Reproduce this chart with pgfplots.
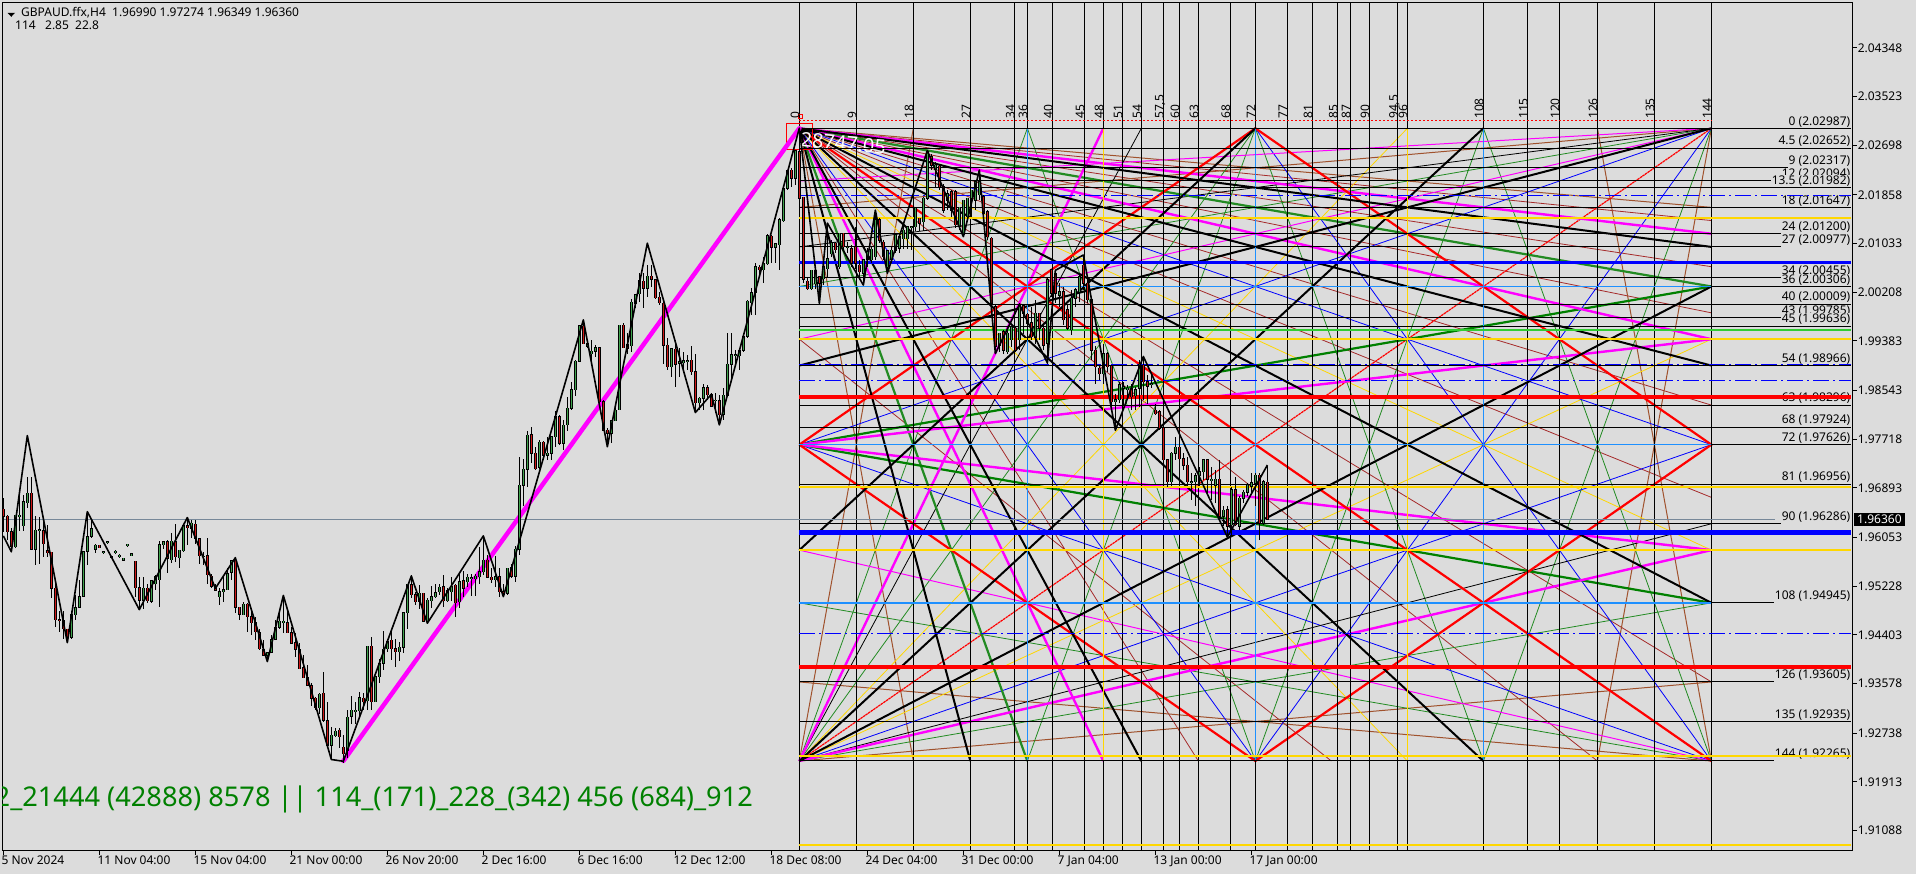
\documentclass[border=0pt]{standalone}
\usepackage{pgfplots}
\usepackage{pgfplotstable}
\usepackage{fontspec}
\setmainfont{Noto Sans}
\pgfplotsset{compat=1.18}
\definecolor{bg}{HTML}{DCDCDC}
\definecolor{ggold}{HTML}{FFD700}
\definecolor{gblue}{HTML}{1E90FF}
\definecolor{glime}{HTML}{32CD32}
\definecolor{ggreen}{HTML}{008000}
\definecolor{fgreen}{HTML}{228B22}
\definecolor{gbrown}{HTML}{A0522D}
\definecolor{dred}{HTML}{A52A2A}
\definecolor{bull}{HTML}{3FA34D}
\definecolor{bear}{HTML}{D01818}
\definecolor{pline}{HTML}{778899}
\definecolor{mag}{HTML}{FF00FF}
\definecolor{pure}{HTML}{0000FF}
\definecolor{rd}{HTML}{FF0000}
\newcommand\chartfont{\fontsize{12}{13}\selectfont}

% bars: index, high, body top, body bottom, low
\pgfplotstableread{
i h t b l
3 1.9643 1.9643 1.9590 1.9587
4 1.9677 1.9643 1.9642 1.9617
5 1.9677 1.9666 1.9625 1.9617
6 1.9708 1.9680 1.9664 1.9656
8 1.9641 1.9618 1.9585 1.9559
9 1.9640 1.9618 1.9617 1.9561
17 1.9480 1.9474 1.9436 1.9434
18 1.9508 1.9486 1.9474 1.9465
19 1.9533 1.9505 1.9487 1.9485
20 1.9581 1.9581 1.9506 1.9505
21 1.9649 1.9607 1.9582 1.9559
22 1.9635 1.9620 1.9607 1.9604
23 1.9594 1.9592 1.9585 1.9579
25 1.9582 1.9581 1.9580 1.9577
26 1.9598 1.9598 1.9596 1.9594
27 1.9574 1.9574 1.9572 1.9570
28 1.9584 1.9582 1.9581 1.9578
29 1.9577 1.9575 1.9574 1.9571
30 1.9571 1.9570 1.9567 1.9565
31 1.9595 1.9594 1.9591 1.9590
32 1.9579 1.9578 1.9575 1.9574
35 1.9539 1.9519 1.9499 1.9485
37 1.9533 1.9532 1.9497 1.9494
38 1.9541 1.9539 1.9527 1.9516
39 1.9600 1.9593 1.9534 1.9488
40 1.9600 1.9598 1.9593 1.9585
42 1.9613 1.9599 1.9568 1.9562
44 1.9584 1.9584 1.9571 1.9553
45 1.9626 1.9625 1.9583 1.9581
47 1.9635 1.9629 1.9621 1.9604
50 1.9581 1.9574 1.9573 1.9559
54 1.9519 1.9513 1.9505 1.9491
55 1.9541 1.9517 1.9514 1.9496
56 1.9553 1.9544 1.9517 1.9516
57 1.9567 1.9566 1.9546 1.9533
60 1.9496 1.9492 1.9474 1.9474
66 1.9412 1.9410 1.9406 1.9395
67 1.9440 1.9432 1.9411 1.9409
68 1.9465 1.9453 1.9433 1.9431
69 1.9480 1.9463 1.9453 1.9451
70 1.9505 1.9463 1.9461 1.9444
79 1.9341 1.9340 1.9317 1.9307
82 1.9285 1.9270 1.9253 1.9228
83 1.9282 1.9277 1.9269 1.9268
86 1.9313 1.9301 1.9245 1.9231
87 1.9337 1.9313 1.9302 1.9290
88 1.9327 1.9313 1.9310 1.9290
89 1.9344 1.9334 1.9312 1.9302
91 1.9421 1.9421 1.9329 1.9313
93 1.9369 1.9369 1.9327 1.9327
94 1.9400 1.9392 1.9369 1.9358
95 1.9447 1.9416 1.9392 1.9381
96 1.9433 1.9429 1.9417 1.9412
99 1.9428 1.9419 1.9412 1.9396
100 1.9479 1.9478 1.9419 1.9409
101 1.9527 1.9526 1.9478 1.9451
104 1.9525 1.9511 1.9496 1.9485
106 1.9502 1.9499 1.9463 1.9460
107 1.9523 1.9505 1.9498 1.9485
108 1.9527 1.9512 1.9505 1.9502
109 1.9526 1.9521 1.9513 1.9508
111 1.9519 1.9515 1.9498 1.9496
112 1.9539 1.9523 1.9513 1.9498
114 1.9547 1.9530 1.9496 1.9485
116 1.9543 1.9538 1.9530 1.9522
117 1.9543 1.9537 1.9535 1.9506
118 1.9544 1.9540 1.9535 1.9506
119 1.9590 1.9547 1.9539 1.9527
120 1.9607 1.9567 1.9547 1.9542
123 1.9574 1.9539 1.9534 1.9522
126 1.9553 1.9553 1.9511 1.9508
128 1.9590 1.9585 1.9540 1.9529
129 1.9742 1.9694 1.9585 1.9576
130 1.9739 1.9721 1.9694 1.9658
131 1.9785 1.9779 1.9721 1.9691
134 1.9771 1.9767 1.9724 1.9722
136 1.9776 1.9748 1.9745 1.9736
137 1.9777 1.9776 1.9748 1.9736
138 1.9819 1.9810 1.9776 1.9759
140 1.9804 1.9796 1.9765 1.9754
141 1.9844 1.9824 1.9796 1.9785
142 1.9869 1.9856 1.9824 1.9821
143 1.9906 1.9904 1.9856 1.9845
144 1.9965 1.9964 1.9904 1.9903
146 1.9940 1.9934 1.9929 1.9926
147 1.9940 1.9921 1.9917 1.9906
148 1.9931 1.9927 1.9921 1.9912
152 1.9804 1.9803 1.9782 1.9765
153 1.9824 1.9821 1.9803 1.9802
154 1.9965 1.9965 1.9822 1.9821
157 2.0009 2.0004 1.9930 1.9920
158 2.0018 2.0017 2.0002 1.9994
159 2.0053 2.0040 2.0018 2.0005
161 2.0067 2.0048 2.0028 2.0013
167 1.9926 1.9925 1.9895 1.9878
169 1.9926 1.9903 1.9901 1.9877
170 1.9920 1.9905 1.9901 1.9889
171 1.9914 1.9905 1.9904 1.9889
174 1.9844 1.9841 1.9834 1.9821
175 1.9866 1.9859 1.9841 1.9821
178 1.9850 1.9838 1.9837 1.9816
180 1.9858 1.9846 1.9814 1.9804
181 1.9952 1.9899 1.9846 1.9844
182 1.9952 1.9915 1.9899 1.9872
183 1.9923 1.9915 1.9913 1.9895
184 1.9926 1.9922 1.9913 1.9889
185 1.9946 1.9946 1.9923 1.9920
186 2.0008 2.0006 1.9946 1.9944
187 2.0028 2.0020 2.0003 1.9982
188 2.0070 2.0064 2.0020 1.9982
190 2.0081 2.0070 2.0059 2.0036
191 2.0120 2.0117 2.0069 2.0067
193 2.0103 2.0103 2.0097 2.0070
194 2.0146 2.0144 2.0101 2.0059
195 2.0200 2.0197 2.0142 2.0140
196 2.0228 2.0227 2.0197 2.0194
198 2.0262 2.0261 2.0214 2.0203
202 2.0058 2.0058 2.0027 2.0025
203 2.0064 2.0058 2.0035 2.0027
205 2.0076 2.0064 2.0044 2.0033
206 2.0138 2.0078 2.0061 2.0047
207 2.0109 2.0104 2.0086 2.0081
209 2.0121 2.0121 2.0064 2.0061
211 2.0106 2.0098 2.0096 2.0087
215 2.0076 2.0076 2.0053 2.0036
216 2.0095 2.0090 2.0076 2.0064
217 2.0098 2.0094 2.0076 2.0070
218 2.0160 2.0144 2.0081 2.0076
221 2.0092 2.0091 2.0064 2.0053
222 2.0098 2.0092 2.0076 2.0070
223 2.0118 2.0118 2.0092 2.0087
224 2.0118 2.0115 2.0095 2.0087
225 2.0138 2.0126 2.0112 2.0095
226 2.0132 2.0132 2.0112 2.0095
227 2.0132 2.0132 2.0130 2.0092
228 2.0163 2.0163 2.0132 2.0124
230 2.0183 2.0180 2.0140 2.0124
231 2.0261 2.0259 2.0180 2.0177
233 2.0242 2.0236 2.0228 2.0200
236 2.0194 2.0188 2.0177 2.0160
239 2.0166 2.0165 2.0132 2.0126
240 2.0177 2.0177 2.0118 2.0115
241 2.0180 2.0180 2.0149 2.0143
242 2.0194 2.0194 2.0180 2.0149
243 2.0211 2.0208 2.0177 2.0160
244 2.0228 2.0208 2.0186 2.0177
249 1.9951 1.9951 1.9931 1.9920
251 1.9957 1.9951 1.9920 1.9917
252 1.9962 1.9962 1.9940 1.9929
254 2.0002 2.0000 1.9940 1.9923
258 2.0008 1.9985 1.9945 1.9934
261 2.0045 2.0042 1.9934 1.9900
264 2.0036 2.0022 2.0016 1.9996
267 2.0025 2.0011 1.9957 1.9948
268 2.0028 2.0025 2.0011 1.9996
269 2.0050 2.0047 2.0022 2.0005
275 1.9934 1.9917 1.9883 1.9866
278 1.9849 1.9839 1.9835 1.9787
279 1.9869 1.9864 1.9839 1.9833
280 1.9869 1.9861 1.9858 1.9830
281 1.9864 1.9858 1.9856 1.9838
283 1.9861 1.9856 1.9845 1.9821
284 1.9906 1.9899 1.9858 1.9827
287 1.9881 1.9866 1.9865 1.9858
292 1.9751 1.9748 1.9700 1.9692
293 1.9776 1.9758 1.9748 1.9737
297 1.9714 1.9700 1.9698 1.9669
298 1.9714 1.9710 1.9700 1.9658
299 1.9725 1.9717 1.9710 1.9692
300 1.9739 1.9737 1.9717 1.9703
302 1.9725 1.9704 1.9703 1.9669
303 1.9720 1.9704 1.9694 1.9663
305 1.9658 1.9651 1.9641 1.9624
307 1.9691 1.9686 1.9627 1.9607
309 1.9675 1.9672 1.9624 1.9618
310 1.9686 1.9682 1.9672 1.9663
311 1.9697 1.9694 1.9682 1.9675
312 1.9714 1.9698 1.9692 1.9680
313 1.9714 1.9711 1.9697 1.9658
315 1.9703 1.9700 1.9629 1.9627
}\upbars

\pgfplotstableread{
i h t b l
0 1.9672 1.9653 1.9641 1.9615
1 1.9643 1.9641 1.9615 1.9601
2 1.9621 1.9615 1.9590 1.9581
7 1.9708 1.9680 1.9585 1.9585
10 1.9638 1.9617 1.9595 1.9573
11 1.9626 1.9583 1.9579 1.9573
12 1.9581 1.9580 1.9519 1.9502
13 1.9527 1.9519 1.9466 1.9454
14 1.9480 1.9466 1.9464 1.9446
15 1.9480 1.9465 1.9451 1.9434
16 1.9451 1.9450 1.9437 1.9426
24 1.9593 1.9592 1.9588 1.9587
33 1.9566 1.9565 1.9520 1.9505
34 1.9539 1.9520 1.9499 1.9485
36 1.9527 1.9519 1.9498 1.9494
41 1.9601 1.9598 1.9570 1.9546
43 1.9629 1.9598 1.9573 1.9564
46 1.9638 1.9625 1.9622 1.9592
48 1.9635 1.9628 1.9604 1.9594
49 1.9604 1.9603 1.9574 1.9561
51 1.9604 1.9574 1.9542 1.9527
52 1.9544 1.9540 1.9523 1.9519
53 1.9527 1.9520 1.9516 1.9515
58 1.9570 1.9567 1.9487 1.9477
59 1.9488 1.9487 1.9475 1.9466
61 1.9495 1.9492 1.9471 1.9446
62 1.9480 1.9471 1.9461 1.9440
63 1.9471 1.9461 1.9446 1.9431
64 1.9451 1.9444 1.9417 1.9415
65 1.9431 1.9416 1.9406 1.9404
71 1.9485 1.9461 1.9444 1.9443
72 1.9454 1.9444 1.9426 1.9425
73 1.9443 1.9427 1.9416 1.9402
74 1.9426 1.9416 1.9383 1.9382
75 1.9406 1.9385 1.9368 1.9367
76 1.9389 1.9368 1.9355 1.9354
77 1.9358 1.9354 1.9333 1.9319
78 1.9335 1.9333 1.9317 1.9313
80 1.9377 1.9341 1.9296 1.9293
81 1.9327 1.9295 1.9253 1.9248
84 1.9282 1.9279 1.9268 1.9248
85 1.9270 1.9250 1.9239 1.9223
90 1.9341 1.9333 1.9327 1.9313
92 1.9436 1.9421 1.9327 1.9313
97 1.9449 1.9431 1.9417 1.9398
98 1.9433 1.9417 1.9412 1.9386
102 1.9542 1.9525 1.9508 1.9502
103 1.9513 1.9508 1.9496 1.9491
105 1.9512 1.9511 1.9463 1.9463
110 1.9542 1.9522 1.9498 1.9488
113 1.9527 1.9524 1.9495 1.9471
115 1.9549 1.9532 1.9519 1.9505
121 1.9576 1.9567 1.9538 1.9536
122 1.9553 1.9538 1.9534 1.9529
124 1.9553 1.9539 1.9513 1.9505
125 1.9527 1.9513 1.9509 1.9504
127 1.9561 1.9555 1.9540 1.9536
132 1.9793 1.9779 1.9748 1.9731
133 1.9759 1.9748 1.9722 1.9720
135 1.9768 1.9767 1.9745 1.9742
139 1.9813 1.9810 1.9765 1.9762
145 1.9974 1.9963 1.9934 1.9933
149 1.9928 1.9927 1.9835 1.9834
150 1.9838 1.9835 1.9787 1.9786
151 1.9790 1.9787 1.9782 1.9759
155 1.9968 1.9965 1.9927 1.9926
156 1.9951 1.9933 1.9926 1.9917
160 2.0053 2.0040 2.0028 1.9995
162 2.0067 2.0048 2.0043 2.0030
163 2.0043 2.0042 2.0012 2.0009
164 2.0022 2.0012 2.0003 1.9999
165 2.0005 2.0002 1.9931 1.9900
166 1.9943 1.9931 1.9895 1.9889
168 1.9940 1.9924 1.9899 1.9861
172 1.9929 1.9906 1.9886 1.9881
173 1.9916 1.9886 1.9834 1.9816
176 1.9864 1.9859 1.9847 1.9838
177 1.9850 1.9848 1.9828 1.9827
179 1.9847 1.9837 1.9813 1.9796
189 2.0067 2.0063 2.0059 2.0047
192 2.0118 2.0116 2.0097 2.0070
197 2.0231 2.0228 2.0214 2.0200
199 2.0299 2.0259 2.0180 2.0177
200 2.0182 2.0182 2.0043 2.0036
201 2.0047 2.0040 2.0027 2.0025
204 2.0047 2.0047 2.0036 2.0002
208 2.0106 2.0104 2.0093 2.0087
210 2.0121 2.0121 2.0098 2.0090
212 2.0101 2.0095 2.0070 2.0064
213 2.0132 2.0098 2.0070 2.0061
214 2.0076 2.0067 2.0056 2.0041
219 2.0146 2.0144 2.0109 2.0104
220 2.0109 2.0106 2.0081 2.0076
229 2.0146 2.0146 2.0138 2.0124
232 2.0256 2.0251 2.0236 2.0228
234 2.0236 2.0234 2.0200 2.0194
235 2.0205 2.0200 2.0160 2.0155
237 2.0194 2.0191 2.0160 2.0149
238 2.0194 2.0191 2.0135 2.0129
245 2.0186 2.0183 2.0155 2.0149
246 2.0160 2.0157 2.0115 2.0109
247 2.0115 2.0112 2.0000 1.9996
248 2.0000 1.9996 1.9929 1.9917
250 1.9957 1.9954 1.9923 1.9917
253 1.9962 1.9960 1.9923 1.9920
255 2.0000 1.9998 1.9985 1.9951
256 1.9985 1.9984 1.9968 1.9940
257 1.9996 1.9969 1.9945 1.9940
259 1.9985 1.9985 1.9960 1.9940
260 1.9968 1.9960 1.9931 1.9923
262 2.0059 2.0059 2.0019 2.0013
263 2.0053 2.0053 2.0019 2.0002
265 2.0030 2.0022 1.9974 1.9965
266 2.0000 1.9991 1.9960 1.9957
270 2.0084 2.0067 2.0036 2.0025
271 2.0047 2.0036 2.0008 2.0002
272 2.0011 2.0008 1.9923 1.9906
273 1.9929 1.9923 1.9895 1.9866
274 1.9898 1.9892 1.9883 1.9872
276 1.9920 1.9917 1.9895 1.9886
277 1.9897 1.9896 1.9835 1.9821
282 1.9866 1.9858 1.9844 1.9821
285 1.9909 1.9897 1.9869 1.9838
286 1.9881 1.9869 1.9862 1.9832
288 1.9832 1.9821 1.9815 1.9813
289 1.9821 1.9818 1.9790 1.9787
290 1.9793 1.9790 1.9737 1.9734
291 1.9739 1.9737 1.9700 1.9691
294 1.9773 1.9758 1.9739 1.9720
295 1.9748 1.9739 1.9728 1.9720
296 1.9742 1.9728 1.9700 1.9692
301 1.9739 1.9737 1.9704 1.9680
304 1.9737 1.9704 1.9641 1.9635
306 1.9658 1.9652 1.9624 1.9607
308 1.9708 1.9686 1.9627 1.9624
314 1.9714 1.9711 1.9629 1.9601
316 1.9727 1.9699 1.9636 1.9635
}\downbars

% wick, black body, coloured inside
\newcommand\candles[2]{
  \addplot[draw=none, error bars/.cd, y dir=both, y explicit, error mark=none,
    error bar style={draw=black, solid, line width=1pt}]
    table[x=i, y expr=(\thisrow{h}+\thisrow{l})/2,
      y error plus expr=(\thisrow{h}-\thisrow{l})/2,
      y error minus expr=(\thisrow{h}-\thisrow{l})/2] {#1};
  \addplot[draw=none, error bars/.cd, y dir=both, y explicit, error mark=none,
    error bar style={draw=black, solid, line width=3pt}]
    table[x=i, y expr=(\thisrow{t}+\thisrow{b})/2,
      y error plus expr=(\thisrow{t}-\thisrow{b})/2+0.00008,
      y error minus expr=(\thisrow{t}-\thisrow{b})/2+0.00008] {#1};
  \addplot[draw=none, error bars/.cd, y dir=both, y explicit, error mark=none,
    error bar style={draw=#2, solid, line width=1.2pt}]
    table[x=i, y expr=(\thisrow{t}+\thisrow{b})/2,
      y error plus expr=(\thisrow{t}-\thisrow{b})/2,
      y error minus expr=(\thisrow{t}-\thisrow{b})/2] {#1};
}
% level label, sits on its line and hides what is under it
\newcommand\lab[2]{\node[anchor=south east, fill=bg, inner xsep=0.5pt, inner ysep=0pt,
  minimum height=12.5pt, text height=9pt, text depth=2.5pt, font=\chartfont]
  at (axis cs:461.9,#1) {#2};}
\newcommand\hl[2]{\addplot[#1] coordinates {(199,#2)(461.9,#2)};}
% time label above the grid
\newcommand\vl[2]{\node[rotate=90, anchor=base west, inner sep=0pt, xshift=-6.5pt, font=\chartfont]
  at (axis cs:#1,-3.6) {#2};}

\begin{document}
\begin{tikzpicture}[x=1pt,y=1pt]
\useasboundingbox (-2.5,-23.2) rectangle (1913.5,850.8);
\fill[bg] (-2.5,-23.2) rectangle (1913.5,850.8);

% the square, in its own units: 0 to 144 both ways
\begin{axis}[
    at={(0pt,0pt)}, anchor=south west, hide axis,
    scale only axis, width=1850pt, height=848pt,
    xmin=-125.8, xmax=166.28, ymin=-28.56, ymax=164.43, y dir=reverse,
    unbounded coords=jump, clip mode=individual
]
  % thin fans
  \addplot[dred, line width=0.8pt] coordinates {(0,0)(63,144)(nan,nan)(0,0)(126,144)(nan,nan)(0,0)(144,126)(nan,nan)(0,0)(144,84)(nan,nan)(0,0)(144,63)(nan,nan)(0,0)(144,42)(nan,nan)(0,0)(144,31.5)(nan,nan)(0,0)(144,21)(nan,nan)(0,48)(84,144)};
  \addplot[gbrown, line width=1pt] coordinates {(0,144)(18,0)(nan,nan)(0,0)(18,144)(nan,nan)(0,0)(144,18)(nan,nan)(144,0)(0,18)(nan,nan)(0,126)(144,144)(nan,nan)(0,144)(144,126)(nan,nan)(126,0)(144,144)(nan,nan)(144,0)(126,144)};
  \addplot[ggold, line width=0.8pt] coordinates {(0,144)(96,0)(nan,nan)(0,0)(96,144)(nan,nan)(0,0)(144,96)(nan,nan)(0,144)(144,48)};
  \addplot[fgreen, line width=0.8pt] coordinates {(36,0)(0,144)(nan,nan)(36,0)(72,144)(nan,nan)(72,0)(36,144)(nan,nan)(72,0)(108,144)(nan,nan)(108,0)(72,144)(nan,nan)(108,0)(144,144)(nan,nan)(144,0)(108,144)(nan,nan)(0,144)(144,108)(nan,nan)(144,0)(0,36)(nan,nan)(0,108)(144,144)(nan,nan)(0,144)(72,0)};
  \addplot[pure, line width=0.8pt] coordinates {(0,72)(144,144)(nan,nan)(144,0)(0,72)(nan,nan)(0,144)(144,72)(nan,nan)(0,0)(144,72)(nan,nan)(0,0)(72,144)(nan,nan)(72,0)(144,144)(nan,nan)(144,0)(72,144)};
  \addplot[mag, line width=1pt] coordinates {(0,96)(144,144)(nan,nan)(144,0)(0,12)(nan,nan)(144,0)(0,48)};
  \addplot[black, line width=0.8pt] coordinates {(0,144)(54,0)(nan,nan)(0,144)(144,90)(nan,nan)(144,0)(0,27)};
  \addplot[rd, line width=1.2pt, dash pattern=on 2.5pt off 0.6pt] coordinates {(0,144)(144,0)};
  % heavy fans
  \addplot[fgreen, line width=2.2pt] coordinates {(0,0)(36,144)(nan,nan)(0,0)(144,36)};
  \addplot[ggreen, line width=2.2pt] coordinates {(0,72)(144,36)(nan,nan)(0,72)(144,108)};
  \addplot[mag, line width=2.4pt] coordinates {(0,144)(48,0)(nan,nan)(0,0)(48,144)(nan,nan)(0,0)(144,24)(nan,nan)(0,0)(144,48)(nan,nan)(0,72)(144,48)(nan,nan)(0,72)(144,96)(nan,nan)(0,144)(144,96)};
  \addplot[rd, line width=2.2pt] coordinates {(0,72)(72,0)(144,72)(72,144)(0,72)(nan,nan)(0,0)(144,144)};
  \addplot[black, line width=2pt] coordinates {(0,144)(108,0)(nan,nan)(0,96)(72,0)(nan,nan)(0,0)(27,144)(nan,nan)(0,0)(54,144)(nan,nan)(0,0)(108,144)(nan,nan)(0,0)(144,27)(nan,nan)(0,0)(144,54)(nan,nan)(0,0)(144,108)(nan,nan)(144,0)(0,54)(nan,nan)(0,144)(144,36)};

  % time lines
  \pgfplotsinvokeforeach{0,9,18,27,34,36,40,45,48,51,54,57.5,60,63,68,72,77,81,85,87,90,94.5,96,108,115,120,126,135,144}{
    \addplot[black, line width=1pt] coordinates {(#1,-28.56)(#1,164.43)};
  }
  \addplot[gblue, line width=1.4pt] coordinates {(36,0)(36,144)(nan,nan)(72,0)(72,144)(nan,nan)(108,0)(108,144)};
  \addplot[ggold, line width=1.4pt] coordinates {(48,0)(48,144)(nan,nan)(96,0)(96,144)};

  % dotted line over the labels and the two boxes at the start
  \addplot[rd, line width=0.8pt, dash pattern=on 2pt off 2pt] coordinates {(0,-1.7)(144,-1.7)};
  \addplot[rd, line width=0.8pt] coordinates {(-2,-1.1)(2.1,-1.1)(2.1,4.8)(-2,4.8)(-2,-1.1)};
  \addplot[rd, line width=0.8pt] coordinates {(-0.2,-3.2)(0.5,-3.2)(0.5,-2.2)(-0.2,-2.2)(-0.2,-3.2)};

  \vl{0}{0}\vl{9}{9}\vl{18}{18}\vl{27}{27}\vl{34}{34}\vl{36}{36}\vl{40}{40}\vl{45}{45}
  \vl{48}{48}\vl{51}{51}\vl{54}{54}\vl{57.5}{57,5}\vl{60}{60}\vl{63}{63}\vl{68}{68}\vl{72}{72}
  \vl{77}{77}\vl{81}{81}\vl{85}{85}\vl{87}{87}\vl{90}{90}\vl{94.5}{94,5}\vl{96}{96}
  \vl{108}{108}\vl{115}{115}\vl{120}{120}\vl{126}{126}\vl{135}{135}\vl{144}{144}

  \node[anchor=west, rotate=-5, text=white!90!bg, inner sep=0pt, font=\fontsize{20}{22}\selectfont]
    at (axis cs:0.2,2.6) {28747.05};
\end{axis}

% price axis, bars counted from the left edge
\begin{axis}[
    at={(0pt,0pt)}, anchor=south west,
    scale only axis, width=1850pt, height=848pt,
    xmin=-0.2075, xmax=462.29, ymin=1.90743, ymax=2.05114,
    axis line style={black, line width=1pt},
    tick style={black, line width=1pt}, major tick length=4pt, tick align=outside,
    xtick pos=bottom, ytick pos=right,
    xtick={0,24,48,72,96,120,144,168,192,216,240,264,288,312},
    xticklabels={5 Nov 2024,11 Nov 04:00,15 Nov 04:00,21 Nov 00:00,26 Nov 20:00,2 Dec 16:00,6 Dec 16:00,12 Dec 12:00,18 Dec 08:00,24 Dec 04:00,31 Dec 00:00,7 Jan 04:00,13 Jan 00:00,17 Jan 00:00},
    xticklabel style={anchor=north west, xshift=-2pt, yshift=-1pt, inner sep=0pt, font=\chartfont},
    ytick={2.04348,2.03523,2.02698,2.01858,2.01033,2.00208,1.99383,1.98543,1.97718,1.96893,1.96053,1.95228,1.94403,1.93578,1.92738,1.91913,1.91088},
    yticklabels={2.04348,2.03523,2.02698,2.01858,2.01033,2.00208,1.99383,1.98543,1.97718,1.96893,1.96053,1.95228,1.94403,1.93578,1.92738,1.91913,1.91088},
    yticklabel style={anchor=west, xshift=1pt, inner sep=0pt, font=\chartfont},
    unbounded coords=jump, clip mode=individual
]
  % levels
  \hl{black, line width=1pt}{2.02987}\hl{black, line width=1pt}{2.02652}
  \hl{black, line width=1pt}{2.02317}\hl{black, line width=1pt}{2.02094}
  \hl{black, line width=1pt}{2.01982}\hl{black, line width=1pt}{2.01647}
  \hl{black, line width=1pt}{2.01200}\hl{black, line width=1pt}{2.00977}
  \hl{black, line width=1pt}{2.00455}\hl{black, line width=1pt}{2.00306}
  \hl{black, line width=1pt}{2.00009}\hl{black, line width=1pt}{1.99785}
  \hl{black, line width=1pt}{1.99636}\hl{black, line width=1pt}{1.98966}
  \hl{black, line width=1pt}{1.98296}\hl{black, line width=1pt}{1.97924}
  \hl{black, line width=1pt}{1.97626}\hl{black, line width=1pt}{1.96956}
  \hl{black, line width=1pt}{1.96286}\hl{black, line width=1pt}{1.94945}
  \hl{black, line width=1pt}{1.93605}\hl{black, line width=1pt}{1.92935}
  \hl{black, line width=1pt}{1.92265}

  \lab{2.02987}{0 (2.02987)}\lab{2.02652}{4.5 (2.02652)}\lab{2.02317}{9 (2.02317)}
  \lab{2.02094}{12 (2.02094)}\lab{2.01982}{13.5 (2.01982)}\lab{2.01647}{18 (2.01647)}
  \lab{2.01200}{24 (2.01200)}\lab{2.00977}{27 (2.00977)}\lab{2.00455}{34 (2.00455)}
  \lab{2.00306}{36 (2.00306)}\lab{2.00009}{40 (2.00009)}\lab{1.99785}{43 (1.99785)}
  \lab{1.99636}{45 (1.99636)}\lab{1.98966}{54 (1.98966)}\lab{1.98296}{63 (1.98296)}
  \lab{1.97924}{68 (1.97924)}\lab{1.97626}{72 (1.97626)}\lab{1.96956}{81 (1.96956)}
  \lab{1.96286}{90 (1.96286)}\lab{1.94945}{108 (1.94945)}\lab{1.93605}{126 (1.93605)}
  \lab{1.92935}{135 (1.92935)}\lab{1.92265}{144 (1.92265)}

  \addplot[gblue, line width=1.4pt] coordinates {(199,2.00306)(427,2.00306)(nan,nan)(199,1.97626)(427,1.97626)(nan,nan)(199,1.94945)(427,1.94945)};

  \hl{pure, line width=1.2pt, dash pattern=on 16pt off 4pt on 2pt off 4pt}{2.01852}
  \hl{pure, line width=1.2pt, dash pattern=on 16pt off 4pt on 2pt off 4pt}{1.98981}
  \hl{pure, line width=1.2pt, dash pattern=on 16pt off 4pt on 2pt off 4pt}{1.98716}
  \hl{pure, line width=1.2pt, dash pattern=on 16pt off 4pt on 2pt off 4pt}{1.94429}
  \hl{ggold, line width=2.2pt}{2.01467}
  \hl{ggold, line width=2.2pt}{1.99421}
  \hl{ggold, line width=2.2pt}{1.96913}
  \hl{ggold, line width=2.2pt}{1.95840}
  \hl{ggold, line width=2.2pt}{1.92349}
  \hl{ggold, line width=2.2pt}{1.90841}
  \hl{glime, line width=2.2pt}{1.99569}
  \hl{pure, line width=3.2pt}{2.00716}
  \hl{pure, line width=4.5pt}{1.96141}
  \hl{rd, line width=4pt}{1.98433}
  \hl{rd, line width=4pt}{1.93858}

  \addplot[pline, line width=1pt] coordinates {(-0.2075,1.96360)(443,1.96360)};
  \addplot[mag, line width=4.5pt, line cap=round] coordinates {(85,1.92265)(199,2.02987)};

  \candles{\upbars}{bull}
  \candles{\downbars}{bear}

  \addplot[black, line width=1.6pt, line join=round] coordinates {
    (0,1.9608)(2,1.9581)(6,1.9778)(16,1.9427)(21,1.9649)(34,1.9483)(46,1.9639)(53,1.9519)
    (58,1.9571)(66,1.9395)(70,1.9507)(82,1.9229)(85,1.9226)(102,1.9540)(106,1.9460)
    (120,1.9608)(125,1.9505)(145,1.9974)(151,1.9759)(161,2.0104)(173,1.9817)(177,1.9848)
    (179,1.9796)(199,2.0299)(204,2.0002)(206,2.0138)(215,2.0033)(218,2.0160)(221,2.0053)
    (231,2.0261)(240,2.0115)(244,2.0228)(248,1.9917)(254,2.0000)(261,1.9901)(263,2.0058)
    (270,2.0084)(278,1.9787)(285,1.9912)(306,1.9606)(316,1.9728)};
\end{axis}

% header, big green line and the price box
\fill[black] (5,838) -- (12.5,838) -- (8.75,834) -- cycle;
\node[anchor=west, inner sep=0pt, font=\chartfont] at (18.5,838.5) {GBPAUD.ffx,H4\ \ 1.96990 1.97274 1.96349 1.96360};
\node[anchor=west, inner sep=0pt, font=\chartfont] at (12.5,825.2) {114\ \ \ 2.85\ \ 22.8};
\begin{scope}
  \clip (0,0) rectangle (1000,848);
  \node[anchor=base west, inner sep=0pt, text=ggreen, font=\fontsize{27.2}{30}\selectfont]
    at (-8,44.2) {2\_21444 (42888) 8578 || 114\_(171)\_228\_(342) 456 (684)\_912};
\end{scope}
\node[anchor=west, fill=black, text=white, inner xsep=3pt, inner ysep=2pt, font=\chartfont]
  at (1851.5,331.2) {1.96360};
\end{tikzpicture}
\end{document}
